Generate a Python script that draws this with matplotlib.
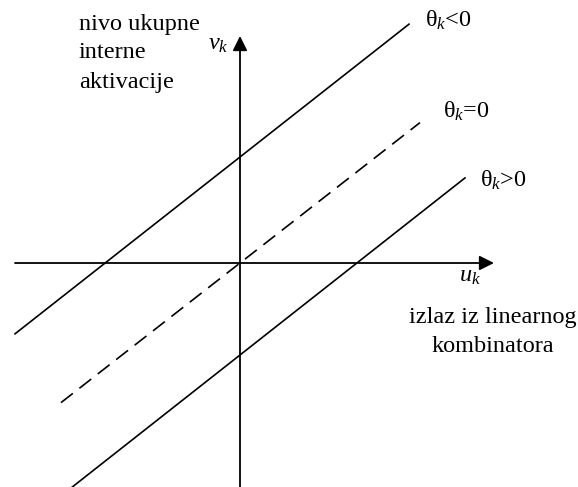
import matplotlib.pyplot as plt

plt.rcParams['font.family'] = ['Liberation Serif', 'DejaVu Serif']
plt.rcParams['mathtext.fontset'] = 'custom'
plt.rcParams['mathtext.rm'] = 'Liberation Serif'
plt.rcParams['mathtext.it'] = 'Liberation Serif:italic'

# lines v = slope*u + offset, drawn between u_start and u_end
labels = [r'θ$_k$<0', r'θ$_k$=0', r'θ$_k$>0']
slopes = [0.786, 0.78, 0.787]
offsets = [106, 0, -92]
u_start = [-225, -179, -168]
u_end = [169, 180, 225]
styles = ['-', '--', '-']
label_pos = [(185, 236), (203, 145), (240, 76)]

fs = 17.5

fig = plt.figure(figsize=(5.78, 4.87), dpi=100)
ax = fig.add_axes([0, 0, 1, 1])
ax.set_xlim(-240, 338)
ax.set_ylim(-224, 263)
ax.axis('off')

arrow = dict(arrowstyle='-|>', mutation_scale=22, lw=1.3, color='black',
             shrinkA=0, shrinkB=0)
ax.annotate('', xy=(254, 0), xytext=(-225, 0), arrowprops=arrow)
ax.annotate('', xy=(0, 227), xytext=(0, -226), arrowprops=arrow)

for lab, k, b, u0, u1, ls, pos in zip(labels, slopes, offsets, u_start, u_end, styles, label_pos):
    line, = ax.plot([u0, u1], [k * u0 + b, k * u1 + b], color='black', lw=1.2, ls=ls)
    if ls == '--':
        line.set_dashes((9, 5))
    ax.text(pos[0], pos[1], lab, fontsize=fs, ha='left', va='baseline')

ax.text(-22, 213, r'$v_k$', fontsize=fs, ha='center', va='baseline')
ax.text(230, -19, r'$u_k$', fontsize=fs, ha='center', va='baseline')

ax.text(-161, 233, 'nivo ukupne', fontsize=fs, ha='left', va='baseline')
ax.text(-161, 205, 'interne', fontsize=fs, ha='left', va='baseline')
ax.text(-161, 175, 'aktivacije', fontsize=fs, ha='left', va='baseline')

ax.text(253, -60, 'izlaz iz linearnog', fontsize=fs, ha='center', va='baseline')
ax.text(253, -89, 'kombinatora', fontsize=fs, ha='center', va='baseline')

fig.savefig('out.png', dpi=100)
